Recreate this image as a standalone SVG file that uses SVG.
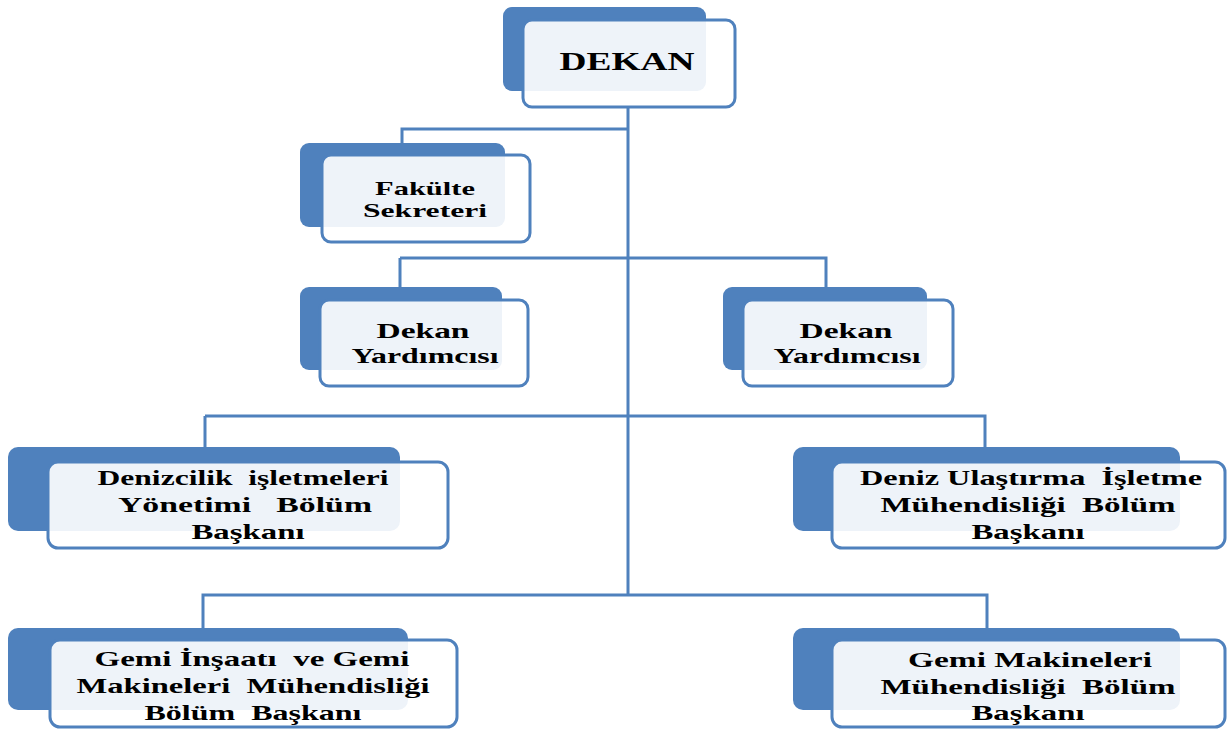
<svg xmlns="http://www.w3.org/2000/svg" width="1227" height="731" viewBox="0 0 1227 731">
<style>
.back{fill:#4F81BD}
.front{fill:#ffffff;fill-opacity:0.9;stroke:#4F81BD;stroke-width:3}
.conn{fill:none;stroke:#4F81BD;stroke-width:3}
text{font-family:"Liberation Serif","Times New Roman",serif;font-weight:bold;fill:#000;text-anchor:middle;white-space:pre}
.t20{font-size:21px}
.t19{font-size:19px}
</style>
<rect width="1227" height="731" fill="#ffffff"/>
<g id="connectors">
<path class="conn" d="M628,107 V596"/>
<path class="conn" d="M628,129 H402 V143"/>
<path class="conn" d="M400,258 H826 V287 M400,258 V287"/>
<path class="conn" d="M205,416 H985 V447 M205,416 V447"/>
<path class="conn" d="M203,628 V595 H987 V628"/>
</g>
<g id="dekan">
<rect class="back" x="503" y="7" width="203" height="84" rx="9"/>
<rect class="front" x="523" y="20" width="212" height="87" rx="9"/>
<text x="627" y="70" style="font-size:25px" textLength="135" lengthAdjust="spacingAndGlyphs">DEKAN</text>
</g>
<g id="fakulte-sekreteri">
<rect class="back" x="300" y="143" width="205" height="84" rx="9"/>
<rect class="front" x="322" y="155" width="208" height="87" rx="9"/>
<text class="t19" x="425" y="195" textLength="100" lengthAdjust="spacingAndGlyphs">Fakülte</text>
<text class="t19" x="425" y="217" textLength="124" lengthAdjust="spacingAndGlyphs">Sekreteri</text>
</g>
<g id="dekan-yardimcisi-1">
<rect class="back" x="300" y="287" width="202" height="83" rx="9"/>
<rect class="front" x="320" y="300" width="208" height="86" rx="9"/>
<text class="t20" x="423" y="338" textLength="93" lengthAdjust="spacingAndGlyphs">Dekan</text>
<text class="t20" x="425" y="363" textLength="147" lengthAdjust="spacingAndGlyphs">Yardımcısı</text>
</g>
<g id="dekan-yardimcisi-2">
<rect class="back" x="723" y="287" width="204" height="83" rx="9"/>
<rect class="front" x="743" y="300" width="210" height="86" rx="9"/>
<text class="t20" x="846" y="338" textLength="93" lengthAdjust="spacingAndGlyphs">Dekan</text>
<text class="t20" x="847" y="363" textLength="147" lengthAdjust="spacingAndGlyphs">Yardımcısı</text>
</g>
<g id="denizcilik">
<rect class="back" x="8" y="447" width="392" height="84" rx="10"/>
<rect class="front" x="48" y="462" width="400" height="86" rx="10"/>
<text class="t20" x="243" y="485" textLength="291" lengthAdjust="spacingAndGlyphs">Denizcilik  işletmeleri</text>
<text class="t20" x="245" y="512" textLength="254" lengthAdjust="spacingAndGlyphs">Yönetimi   Bölüm</text>
<text class="t20" x="248" y="539" textLength="113" lengthAdjust="spacingAndGlyphs">Başkanı</text>
</g>
<g id="deniz-ulastirma">
<rect class="back" x="793" y="447" width="387" height="84" rx="10"/>
<rect class="front" x="832" y="462" width="393" height="86" rx="10"/>
<text class="t20" x="1031" y="485" textLength="342" lengthAdjust="spacingAndGlyphs">Deniz Ulaştırma  İşletme</text>
<text class="t20" x="1028" y="512" textLength="295" lengthAdjust="spacingAndGlyphs">Mühendisliği  Bölüm</text>
<text class="t20" x="1028" y="539" textLength="113" lengthAdjust="spacingAndGlyphs">Başkanı</text>
</g>
<g id="gemi-insaati">
<rect class="back" x="8" y="628" width="400" height="82" rx="10"/>
<rect class="front" x="50" y="640" width="407" height="87" rx="10"/>
<text class="t20" x="252" y="666" textLength="315" lengthAdjust="spacingAndGlyphs">Gemi İnşaatı  ve Gemi</text>
<text class="t20" x="253" y="693" textLength="353" lengthAdjust="spacingAndGlyphs">Makineleri  Mühendisliği</text>
<text class="t20" x="253" y="720" textLength="217" lengthAdjust="spacingAndGlyphs">Bölüm  Başkanı</text>
</g>
<g id="gemi-makineleri">
<rect class="back" x="793" y="628" width="387" height="82" rx="10"/>
<rect class="front" x="832" y="640" width="393" height="87" rx="10"/>
<text class="t20" x="1030" y="667" textLength="244" lengthAdjust="spacingAndGlyphs">Gemi Makineleri</text>
<text class="t20" x="1028" y="694" textLength="295" lengthAdjust="spacingAndGlyphs">Mühendisliği  Bölüm</text>
<text class="t20" x="1028" y="720" textLength="113" lengthAdjust="spacingAndGlyphs">Başkanı</text>
</g>
</svg>
